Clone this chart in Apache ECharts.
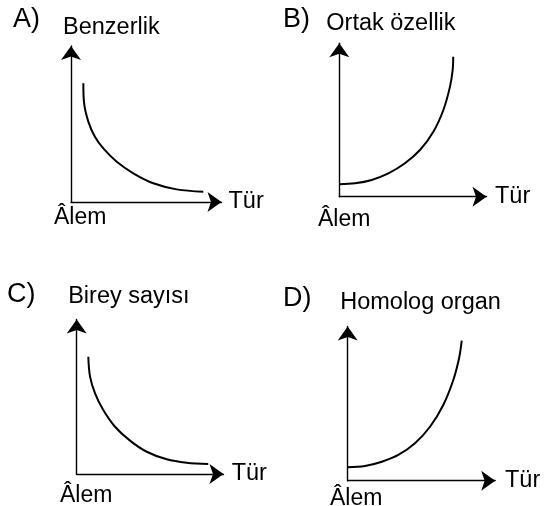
<!DOCTYPE html>
<html>
<head>
<meta charset="utf-8">
<script src="https://cdn.jsdelivr.net/npm/echarts@6/dist/echarts.min.js"></script>
<style>html,body{margin:0;padding:0;background:#fff;}#chart{width:550px;height:506px;}</style>
</head>
<body>
<div id="chart"></div>
<script>
// ---- data (axes are 0..10 in arbitrary units) ----
const panelLetters = ['A)', 'B)', 'C)', 'D)'];
const yNames = ['Benzerlik', 'Ortak özellik', 'Birey sayısı', 'Homolog organ'];
const xName = 'Tür';
const originName = 'Âlem';

const curveA = [[0.82,7.61],[0.86,6.43],[1.15,5.15],[1.59,4.19],[2.15,3.44],[3.04,2.58],[4.14,1.84],[5.47,1.20],[7.02,0.81],[8.79,0.66]];
const curveB = [[0,0.81],[1.07,0.87],[2.20,1.09],[3.33,1.52],[4.46,2.18],[5.48,3.04],[6.39,4.23],[7.07,5.65],[7.52,7.17],[7.70,8.25],[7.74,9.12]];
const curveC = [[0.79,7.59],[0.91,6.30],[1.25,5.22],[1.81,4.14],[2.61,3.06],[3.63,2.16],[4.77,1.44],[6.13,0.95],[7.49,0.73],[8.96,0.65]];
const curveD = [[0,0.87],[1.17,0.95],[2.31,1.23],[3.43,1.67],[4.56,2.43],[5.58,3.50],[6.48,4.91],[7.16,6.53],[7.55,7.94],[7.73,9.08]];
const curves = [curveA, curveB, curveC, curveD];

// ---- layout ----
const FONT = 'Liberation Sans, Arial, sans-serif';
const grids = [
  {left: 71,    top: 46,    width: 150.5, height: 156},
  {left: 339.3, top: 43.2,  width: 147.2, height: 153.5},
  {left: 76.7,  top: 319.5, width: 146.8, height: 154.5},
  {left: 347.7, top: 326.5, width: 147.5, height: 154.2}
];
const yNameGap = [6.5, 8, 10.5, 11.5];
const yNamePadLeft = [-8, -13, -8.5, -7.5];
const xNameGap = [7, 8.5, 8.2, 9.8];
const letterPos = [[13, 6], [283, 6], [7, 281], [283, 285]];
const originPos = [[54, 206.5], [318, 208.5], [60, 484.5], [330, 487]];

const axisCommon = {
  type: 'value', min: 0, max: 10,
  axisTick: {show: false}, axisLabel: {show: false}, splitLine: {show: false},
  axisLine: {show: true, symbol: ['none', 'arrow'], symbolSize: [15, 14],
             lineStyle: {color: '#000', width: 1.4}}
};

const option = {
  backgroundColor: '#fff',
  animation: false,
  grid: grids.map(g => Object.assign({containLabel: false}, g)),
  xAxis: grids.map((g, i) => Object.assign({}, axisCommon, {
    gridIndex: i, name: xName, nameLocation: 'end', nameGap: xNameGap[i],
    nameTextStyle: {color: '#000', fontSize: 23.5, fontFamily: FONT, verticalAlign: 'middle', padding: [2, 0, 0, 0]}
  })),
  yAxis: grids.map((g, i) => Object.assign({}, axisCommon, {
    gridIndex: i, name: yNames[i], nameLocation: 'end', nameGap: yNameGap[i],
    nameTextStyle: {color: '#000', fontSize: 23.5, fontFamily: FONT, align: 'left', padding: [0, 0, 0, yNamePadLeft[i]]}
  })),
  title: panelLetters.map((t, i) => ({
    text: t, left: letterPos[i][0], top: letterPos[i][1], padding: 0,
    textStyle: {color: '#000', fontSize: 27, fontWeight: 'normal', fontFamily: FONT}
  })).concat(originPos.map(p => ({
    text: originName, left: p[0], top: p[1], padding: 0,
    textStyle: {color: '#000', fontSize: 23, fontWeight: 'normal', fontFamily: FONT}
  }))),
  series: curves.map((c, i) => ({
    type: 'line', xAxisIndex: i, yAxisIndex: i, data: c,
    smooth: 0.35, symbol: 'none', clip: false,
    lineStyle: {color: '#000', width: 2}
  }))
};

const chart = echarts.init(document.getElementById('chart'), null, {renderer: 'canvas'});
chart.setOption(option);
</script>
</body>
</html>
